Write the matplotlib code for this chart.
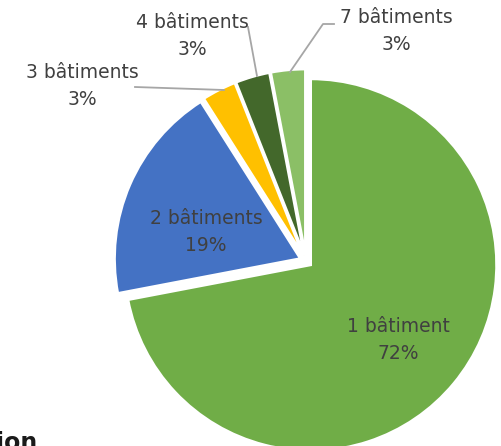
import matplotlib
matplotlib.use('Agg')
import matplotlib.pyplot as plt

# Data
#-----------------------------------------------------------
categories = ['1 bâtiment', '2 bâtiments', '3 bâtiments', '4 bâtiments', '7 bâtiments']
values = [72, 19, 3, 3, 3]
colors = ['#70AD47', '#4472C4', '#FFC000', '#43682B', '#8BBF66']
#-----------------------------------------------------------

W, H = 501, 446
fig = plt.figure(figsize=(W / 100, H / 100), dpi=100)
ax = fig.add_axes([0, 0, 1, 1])

#Pie (pixel coords, y up)
#-----------------------------------------------------------
cx, cy, r = 306, H - 261, 186
ax.pie(values, colors=colors, startangle=90, counterclock=False,
       center=(cx, cy), radius=r, explode=[6] * len(values),
       wedgeprops=dict(edgecolor='white', linewidth=2), frame=True)
ax.set_xlim(0, W)
ax.set_ylim(0, H)
ax.axis('off')
#-----------------------------------------------------------

#Labels
#-----------------------------------------------------------
txt_color = '#404040'
labels = [f'{c}\n{v}%' for c, v in zip(categories, values)]
label_pos = [(398, 340), (206, 232), (82, 86), (192, 36), (396, 31)]
for lab, (x, y) in zip(labels, label_pos):
    ax.text(x, H - y, lab, ha='center', va='center', fontsize=13.5,
            color=txt_color, linespacing=1.5)

line_color = '#A6A6A6'
ax.plot([135, 224], [H - 87, H - 90], color=line_color, lw=1.3)
ax.plot([248, 257], [H - 27, H - 76], color=line_color, lw=1.3)
ax.plot([334, 323, 290], [H - 24, H - 24, H - 72], color=line_color, lw=1.3)
#-----------------------------------------------------------

#Cut off title text at bottom left
ax.text(-4, -4, 'ion', fontsize=17, fontweight='bold', color='#1a1a1a',
        ha='left', va='baseline')

fig.savefig('out.png', dpi=100)
